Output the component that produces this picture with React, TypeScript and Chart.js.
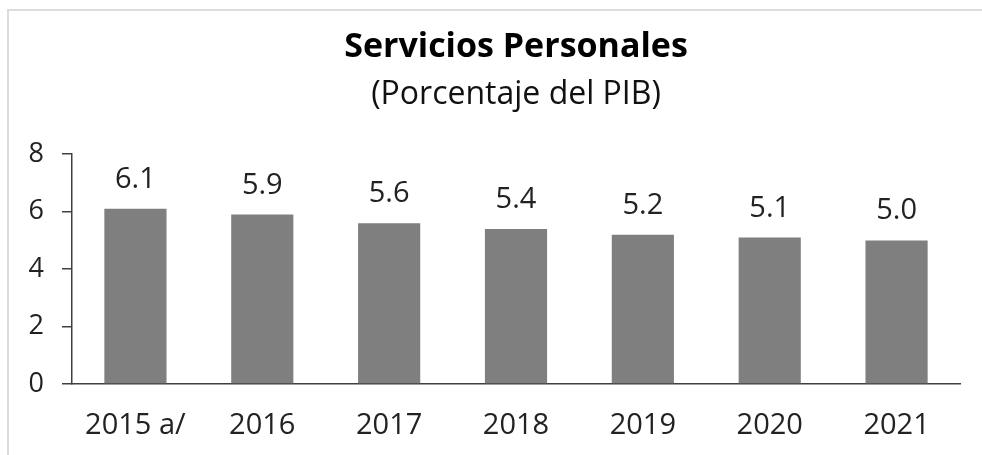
import React, { useEffect, useRef } from "react";
import { Chart, registerables } from "chart.js";

Chart.register(...registerables);

const categories = ["2015 a/", "2016", "2017", "2018", "2019", "2020", "2021"];
const values = [6.1, 5.9, 5.6, 5.4, 5.2, 5.1, 5.0];
const yTicks = [0, 2, 4, 6, 8];
const titleText = "Servicios Personales";
const subtitleText = "(Porcentaje del PIB)";

const FONT = "'Open Sans', 'DejaVu Sans', sans-serif";

const valueLabels = {
  id: "valueLabels",
  afterDatasetsDraw(chart: any) {
    const ctx = chart.ctx;
    const meta = chart.getDatasetMeta(0);
    ctx.save();
    ctx.font = `29px ${FONT}`;
    ctx.fillStyle = "#222";
    ctx.textAlign = "center";
    ctx.textBaseline = "alphabetic";
    meta.data.forEach((bar: any, i: number) => {
      ctx.fillText(values[i].toFixed(1), bar.x, bar.y - 21);
    });
    ctx.restore();
  },
};

export default function App() {
  const ref = useRef<HTMLCanvasElement | null>(null);
  useEffect(() => {
    if (!ref.current) return;
    const chart = new Chart(ref.current, {
      type: "bar",
      data: {
        labels: categories,
        datasets: [
          {
            data: values,
            backgroundColor: "#7f7f7f",
            borderWidth: 0,
            barPercentage: 0.49,
            categoryPercentage: 1,
          },
        ],
      },
      plugins: [valueLabels],
      options: {
        animation: false,
        responsive: false,
        maintainAspectRatio: false,
        layout: { padding: { left: 0, right: 22, top: 0, bottom: 0 } },
        plugins: {
          legend: { display: false },
          tooltip: { enabled: false },
          title: {
            display: true,
            fullSize: false,
            text: titleText,
            color: "#000",
            font: { family: FONT, size: 34, weight: "bold" },
            padding: { top: 27, bottom: 0 },
          },
          subtitle: {
            display: true,
            fullSize: false,
            text: subtitleText,
            color: "#111",
            font: { family: FONT, size: 32, weight: "normal" },
            padding: { top: 8, bottom: 40 },
          },
        },
        scales: {
          x: {
            afterFit(scale: any) {
              scale.height = 71;
            },
            grid: { display: false, drawTicks: false },
            border: { display: true, color: "#404040", width: 1.5 },
            ticks: {
              color: "#222",
              font: { family: FONT, size: 29 },
              padding: 24,
              maxRotation: 0,
            },
          },
          y: {
            min: 0,
            max: 8,
            afterFit(scale: any) {
              scale.width = 72;
            },
            afterBuildTicks(scale: any) {
              scale.ticks = yTicks.map((v) => ({ value: v }));
            },
            grid: {
              drawOnChartArea: false,
              drawTicks: true,
              tickLength: 10,
              color: "#404040",
              lineWidth: 1.5,
            },
            border: { display: true, color: "#404040", width: 1.5 },
            ticks: {
              color: "#222",
              font: { family: FONT, size: 27 },
              padding: 18,
            },
          },
        },
      },
    });
    return () => chart.destroy();
  }, []);
  return (
    <div style={{ position: "absolute", left: 0, top: 0, width: 982, height: 455, background: "#fff" }}>
      <div
        style={{
          position: "absolute",
          left: 7,
          top: 9,
          right: 0,
          bottom: 0,
          borderTop: "2px solid #dcdcdc",
          borderLeft: "2px solid #dcdcdc",
        }}
      />
      <canvas ref={ref} width={982} height={455} style={{ position: "absolute", left: 0, top: 0 }} />
    </div>
  );
}
